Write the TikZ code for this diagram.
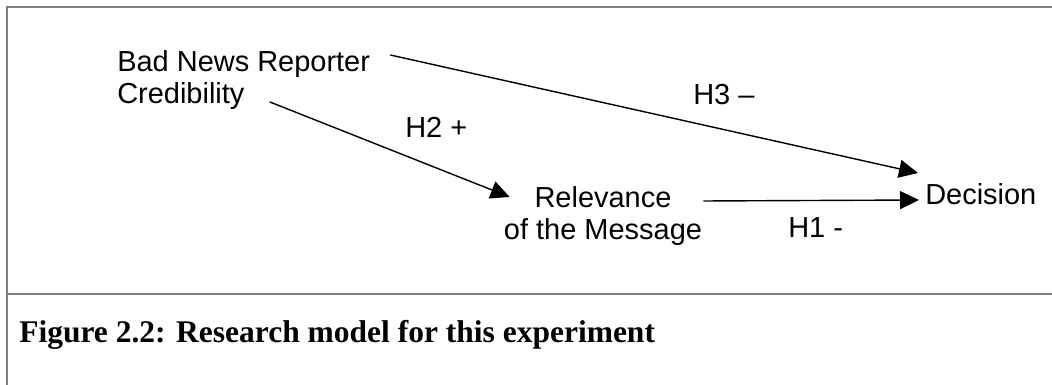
\documentclass[tikz,border=0pt]{standalone}
\usepackage{fontspec}
\setmainfont{Liberation Sans}
\newfontfamily\capfont{Liberation Serif}
\usepackage{tikz}
\usetikzlibrary{positioning, arrows.meta, calc}
\usepackage{xcolor}
\definecolor{framegray}{HTML}{808080}
\definecolor{inkblack}{HTML}{000000}

\begin{document}
\begin{tikzpicture}[x=0.025cm, y=-0.025cm,
    font=\fontsize{20.6}{23}\selectfont,
    txt/.style={inner sep=0pt, text=inkblack},
    link/.style={draw=inkblack, line width=1pt,
                 -{Triangle[length=13.5pt, width=12.8pt]}},
    frame/.style={draw=framegray, line width=1.4pt}]
        \useasboundingbox (0,0) rectangle (1052,385);
        % frame of the figure box
        \draw[frame] (1052,7) -- (7,7) -- (7,385);
        \draw[frame] (7,294) -- (1052,294);
        % variables
        \node[txt, align=left, anchor=north west] (rep) at (117,50)
              {Bad News Reporter\\Credibility};
        \node[txt, align=center, anchor=north] (rel) at (603,186)
              {Relevance\\of the Message};
        \node[txt, anchor=base west] (dec) at (925,205) {Decision};
        % hypotheses
        \draw[link] ($(rep.north east)+(20,5)$) -- ($(dec.base west)+(-7,-32)$);
        \draw[link] ($(rep.south)+(26,-8)$) -- ($(rel.north west)+(6,11)$);
        \draw[link] ($(rel.north east)+(1,15)$) -- ($(dec.base west)+(-6,-5)$);
        \node[txt, anchor=base west] (h3) at (693,105) {H3 –};
        \node[txt, anchor=base west] (h2) at (405,138) {H2 +};
        \node[txt, anchor=base west] (h1) at (788,238) {H1 -};
        % caption
        \node[txt, anchor=base west, font=\capfont\bfseries\fontsize{22.4}{26}\selectfont] (cap)
              at (19,343) {Figure 2.2: Research model for this experiment};
      \end{tikzpicture}
\end{document}
